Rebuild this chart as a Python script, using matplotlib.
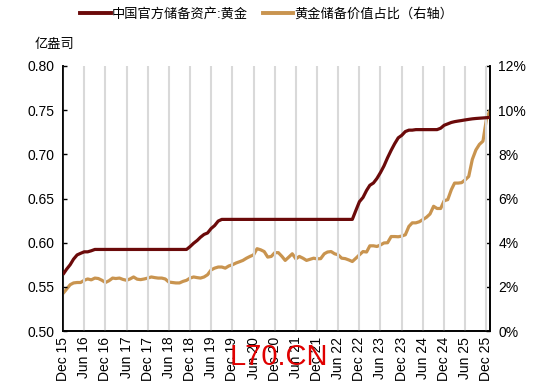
import numpy as np
import pandas as pd
import matplotlib as mpl
mpl.use("Agg")
import matplotlib.pyplot as plt
from matplotlib.ticker import FuncFormatter

plt.rcParams['font.family'] = ['Liberation Sans', 'Noto Sans CJK SC', 'DejaVu Sans']

# monthly, Dec 2015 .. Jan 2026
dates = pd.date_range('2015-12-01', '2026-01-01', freq='MS')

# 中国官方储备资产:黄金 (亿盎司)
reserves = [
    0.5640, 0.5700, 0.5751, 0.5814, 0.5862, 0.5880, 0.5897, 0.5897, 0.5909, 0.5924,  # Dec15-Sep16
    0.5924, 0.5924, 0.5924, 0.5924, 0.5924, 0.5924, 0.5924, 0.5924, 0.5924, 0.5924,  # Oct16-Jul17
    0.5924, 0.5924, 0.5924, 0.5924, 0.5924, 0.5924, 0.5924, 0.5924, 0.5924, 0.5924,  # Aug17-May18
    0.5924, 0.5924, 0.5924, 0.5924, 0.5924, 0.5924, 0.5956, 0.5994, 0.6026, 0.6062,  # Jun18-Mar19
    0.6094, 0.6110, 0.6161, 0.6194, 0.6245, 0.6264, 0.6264, 0.6264, 0.6264, 0.6264,  # Apr19-Jan20
    0.6264, 0.6264, 0.6264, 0.6264, 0.6264, 0.6264, 0.6264, 0.6264, 0.6264, 0.6264,  # Feb20-Nov20
    0.6264, 0.6264, 0.6264, 0.6264, 0.6264, 0.6264, 0.6264, 0.6264, 0.6264, 0.6264,  # Dec20-Sep21
    0.6264, 0.6264, 0.6264, 0.6264, 0.6264, 0.6264, 0.6264, 0.6264, 0.6264, 0.6264,  # Oct21-Jul22
    0.6264, 0.6264, 0.6264, 0.6367, 0.6464, 0.6512, 0.6592, 0.6650, 0.6676, 0.6727,  # Aug22-May23
    0.6795, 0.6869, 0.6962, 0.7046, 0.7120, 0.7187, 0.7215, 0.7258, 0.7274, 0.7274,  # Jun23-Mar24
    0.7280, 0.7280, 0.7280, 0.7280, 0.7280, 0.7280, 0.7280, 0.7296, 0.7329, 0.7345,  # Apr24-Jan25
    0.7361, 0.7370, 0.7377, 0.7383, 0.7390, 0.7396, 0.7402, 0.7406, 0.7409, 0.7412,  # Feb25-Nov25
    0.7415, 0.7419,                                                                  # Dec25-Jan26
]

# 黄金储备价值占比 (%), right axis
share = [
    1.70, 1.90, 2.10, 2.18, 2.20, 2.20, 2.30, 2.36, 2.32, 2.40,
    2.38, 2.30, 2.20, 2.28, 2.40, 2.38, 2.40, 2.34, 2.30, 2.36,
    2.45, 2.35, 2.33, 2.36, 2.40, 2.45, 2.42, 2.40, 2.40, 2.36,
    2.22, 2.20, 2.18, 2.18, 2.25, 2.30, 2.40, 2.45, 2.42, 2.40,
    2.45, 2.55, 2.77, 2.85, 2.90, 2.90, 2.85, 2.95, 3.00, 3.08,
    3.14, 3.20, 3.30, 3.38, 3.45, 3.73, 3.68, 3.60, 3.35, 3.38,
    3.55, 3.55, 3.38, 3.20, 3.35, 3.50, 3.27, 3.38, 3.30, 3.20,
    3.25, 3.30, 3.27, 3.28, 3.50, 3.58, 3.60, 3.50, 3.45, 3.30,
    3.28, 3.22, 3.15, 3.30, 3.45, 3.60, 3.58, 3.86, 3.86, 3.83,
    3.90, 3.99, 4.00, 4.28, 4.28, 4.27, 4.30, 4.36, 4.74, 4.90,
    4.90, 4.95, 5.05, 5.15, 5.30, 5.65, 5.55, 5.55, 5.90, 5.95,
    6.40, 6.70, 6.70, 6.72, 6.85, 7.00, 7.77, 8.20, 8.45, 8.60,
    9.60, 10.00,
]

tick_dates = pd.date_range('2015-12-01', '2025-12-01', freq='6MS')
tick_labels = [d.strftime('%b %y') for d in tick_dates]

red = '#6B0A0A'
gold = '#C9944F'

fig = plt.figure(figsize=(5.5, 3.85), dpi=100)
ax = fig.add_axes([0.1145, 0.140, 0.7765, 0.6886])
ax2 = ax.twinx()

ax.plot(dates, reserves, color=red, lw=2.3, zorder=3, solid_capstyle='butt')
ax2.plot(dates, share, color=gold, lw=2.3, zorder=3, solid_capstyle='butt')
ax.set_zorder(ax2.get_zorder() + 1)
ax.patch.set_visible(False)

ax.set_xlim(dates[0], dates[-1])
ax.set_ylim(0.50, 0.80)
ax.set_yticks(np.arange(0.50, 0.801, 0.05))
ax.yaxis.set_major_formatter(FuncFormatter(lambda v, p: f'{v:.2f}'))
ax2.set_ylim(0, 12)
ax2.set_yticks(np.arange(0, 12.1, 2))
ax2.yaxis.set_major_formatter(FuncFormatter(lambda v, p: f'{v:.0f}%'))

ax.set_xticks(tick_dates)
ax.set_xticklabels(tick_labels, rotation=90)
ax.tick_params(axis='x', length=0, pad=4, labelsize=10)
ax.tick_params(axis='y', direction='in', length=3, width=1, labelsize=10, pad=6)
ax2.tick_params(axis='y', direction='in', length=3, width=1, labelsize=10, pad=6)

ax2.grid(False)
ax.grid(axis='x', color='#D9D9D9', lw=1.5)
ax.set_axisbelow(True)

for a in (ax, ax2):
    a.spines['top'].set_visible(False)
    for s in ('left', 'right', 'bottom'):
        a.spines[s].set_linewidth(1.2)
        a.spines[s].set_color('black')

h1 = plt.Line2D([], [], color=red, lw=2.8)
h2 = plt.Line2D([], [], color=gold, lw=2.8)
fig.legend([h1, h2], ['中国官方储备资产:黄金', '黄金储备价值占比（右轴）'],
           loc='center', bbox_to_anchor=(0.485, 0.962), ncol=2, frameon=False,
           fontsize=9.5, handlelength=2.3, handletextpad=0.1, columnspacing=1.1)

fig.text(0.062, 0.883, '亿盎司', fontsize=9.5, ha='left', va='center')
fig.text(0.418, 0.037, 'L70.CN', fontsize=21, color='#E00000', ha='left', va='bottom',
         family='Liberation Sans')

fig.savefig('out.png', dpi=100)
